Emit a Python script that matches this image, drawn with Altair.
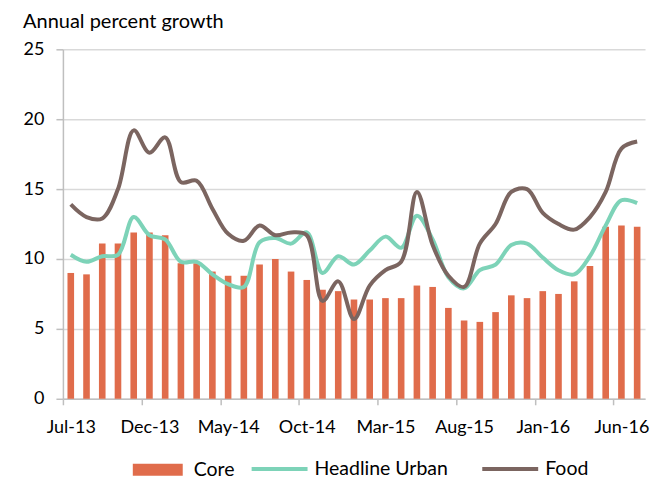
import altair as alt
import pandas as pd

months = ["Jul-13", "Aug-13", "Sep-13", "Oct-13", "Nov-13", "Dec-13",
          "Jan-14", "Feb-14", "Mar-14", "Apr-14", "May-14", "Jun-14",
          "Jul-14", "Aug-14", "Sep-14", "Oct-14", "Nov-14", "Dec-14",
          "Jan-15", "Feb-15", "Mar-15", "Apr-15", "May-15", "Jun-15",
          "Jul-15", "Aug-15", "Sep-15", "Oct-15", "Nov-15", "Dec-15",
          "Jan-16", "Feb-16", "Mar-16", "Apr-16", "May-16", "Jun-16", "Jul-16"]

core = [9.0, 8.9, 11.1, 11.1, 11.9, 11.9, 11.7, 9.7, 9.7, 9.1, 8.8, 8.8,
        9.6, 10.0, 9.1, 8.5, 7.8, 7.7, 7.1, 7.1, 7.2, 7.2, 8.1, 8.0,
        6.5, 5.6, 5.5, 6.2, 7.4, 7.2, 7.7, 7.5, 8.4, 9.5, 12.3, 12.4, 12.3]

headline = [10.3, 9.8, 10.2, 10.3, 13.0, 11.7, 11.4, 9.8, 9.8, 8.9, 8.2, 8.0,
            11.2, 11.5, 11.1, 11.9, 9.0, 10.2, 9.6, 10.6, 11.6, 10.8, 13.1, 11.4,
            8.7, 7.9, 9.2, 9.6, 11.0, 11.1, 10.1, 9.2, 8.9, 10.2, 12.4, 14.2, 14.0]

food = [13.9, 13.0, 12.9, 15.0, 19.2, 17.6, 18.7, 15.5, 15.6, 13.6, 11.8, 11.3,
        12.4, 11.7, 11.9, 11.7, 7.0, 8.4, 5.7, 8.1, 9.2, 9.8, 14.8, 11.0,
        8.8, 8.0, 11.1, 12.5, 14.8, 15.0, 13.3, 12.5, 12.1, 13.0, 14.8, 17.9, 18.4]

tick_labels = ["Jul-13", "Dec-13", "May-14", "Oct-14", "Mar-15", "Aug-15", "Jan-16", "Jun-16"]

series_names = ["Core", "Headline Urban", "Food"]
series_colors = ["#E06C4B", "#7DD3B8", "#7B6560"]

rows = []
for name, vals in zip(series_names, [core, headline, food]):
    for m, v in zip(months, vals):
        rows.append({"month": m, "series": name, "value": v})
df = pd.DataFrame(rows)

FONT = "Lato"
FS = 18
LFS = 19.5
W, H = 583, 350
step = W / len(months)

bar_color = alt.Color(
    "series:N",
    scale=alt.Scale(domain=series_names[:1], range=series_colors[:1]),
    legend=alt.Legend(
        orient="none", legendX=64, legendY=390, direction="horizontal",
        title=None, symbolType="stroke", symbolSize=2500,
        symbolStrokeWidth=12, symbolStrokeColor=series_colors[0],
        labelFontSize=LFS, labelFont=FONT, labelColor="#000000",
        columnPadding=26, labelOffset=5, symbolOpacity=1,
    ),
)
line_color = alt.Color(
    "series:N",
    scale=alt.Scale(domain=series_names[1:], range=series_colors[1:]),
    legend=alt.Legend(
        orient="none", legendX=187, legendY=390, direction="horizontal",
        title=None, symbolType="stroke", symbolSize=3136,
        symbolStrokeWidth=4, labelFontSize=LFS, labelFont=FONT,
        labelColor="#000000", columnPadding=26, labelOffset=5,
        symbolOpacity=1,
    ),
)

x = alt.X(
    "month:O", sort=months, title=None,
    scale=alt.Scale(paddingInner=0.58, paddingOuter=0.29),
    axis=alt.Axis(values=tick_labels, labelAngle=0, bandPosition=0.5,
                  tickOffset=-step / 2, labelOffset=step / 2,
                  tickSize=6, tickColor="#BFBFBF", tickWidth=1.5,
                  domainColor="#BFBFBF", domainWidth=1.5,
                  labelFontSize=FS, labelFont=FONT, labelColor="#000000",
                  labelPadding=14, grid=False),
)
y = alt.Y(
    "value:Q", title=None,
    scale=alt.Scale(domain=[0, 25], nice=False),
    axis=alt.Axis(values=[0, 5, 10, 15, 20, 25], tickSize=7, tickColor="#BFBFBF",
                  tickWidth=1.5, domainColor="#BFBFBF", domainWidth=1.5,
                  gridColor="#D9D9D9", gridWidth=1.5,
                  labelFontSize=FS, labelFont=FONT, labelColor="#000000",
                  labelPadding=12),
)

base = alt.Chart(df)
bars = base.transform_filter(alt.datum.series == "Core").mark_bar().encode(
    x=x, y=y, color=bar_color)
teal = base.transform_filter(alt.datum.series == "Headline Urban").mark_line(
    strokeWidth=4, interpolate="catmull-rom").encode(x=x, y=y, color=line_color)
brown = base.transform_filter(alt.datum.series == "Food").mark_line(
    strokeWidth=4, interpolate="catmull-rom").encode(x=x, y=y, color=line_color)

lines = alt.layer(teal, brown)

chart = alt.layer(bars, lines).resolve_scale(color="independent").properties(
    width=W, height=H,
    padding={"left": 15, "top": 4, "right": 10, "bottom": 0},
    title=alt.TitleParams("Annual percent growth", anchor="start", frame="bounds",
                          fontSize=20, font=FONT, fontWeight="normal",
                          color="#000000", offset=8),
).configure_view(stroke=None)

chart.save("out.html", embed_options={"renderer": "svg", "actions": False})
